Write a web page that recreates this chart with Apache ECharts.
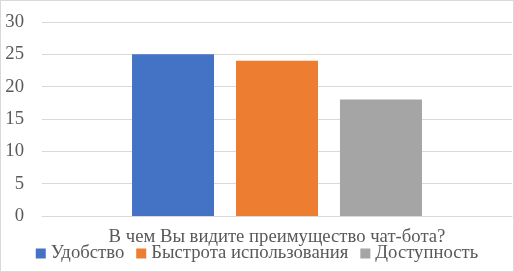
<!DOCTYPE html>
<html><head><meta charset="utf-8">
<script src="https://cdn.jsdelivr.net/npm/echarts@6/dist/echarts.min.js"></script>
<style>html,body{margin:0;padding:0;background:#fff}#c{width:512px;height:270px;border:1px solid #d9d9d9}</style>
</head><body><div id="c"></div>
<script>
const categories = ["В чем Вы видите преимущество чат-бота?"];
const seriesNames = ["Удобство", "Быстрота использования", "Доступность"];
const seriesValues = [[25], [24], [18]];
const colors = ["#4472C4", "#ED7D31", "#A5A5A5"];
const yTicks = {min: 0, max: 30, interval: 5};

const serifFont = "Liberation Serif, serif";
const chart = echarts.init(document.getElementById('c'));
chart.setOption({
  animation: false,
  grid: {left: 41, right: 1, top: 21, bottom: 55, containLabel: false},
  legend: {
    data: seriesNames, top: 243, left: 'center', padding: 0, itemWidth: 10, itemHeight: 10, itemGap: 12,
    icon: 'rect', textStyle: {fontFamily: serifFont, fontSize: 18.7, color: '#595959'}
  },
  xAxis: {
    type: 'category', data: categories,
    axisLine: {lineStyle: {color: '#d9d9d9'}}, axisTick: {show: false},
    axisLabel: {fontFamily: serifFont, fontSize: 18.7, color: '#595959', margin: 12}
  },
  yAxis: {
    type: 'value', min: yTicks.min, max: yTicks.max, interval: yTicks.interval,
    axisLine: {show: false}, axisTick: {show: false},
    splitLine: {lineStyle: {color: '#d9d9d9'}},
    axisLabel: {fontFamily: serifFont, fontSize: 18.7, color: '#595959', margin: 18}
  },
  series: seriesNames.map((n, i) => ({
    name: n, type: 'bar', data: seriesValues[i], itemStyle: {color: colors[i]},
    barWidth: 82, barGap: '26.8%'
  }))
});
</script></body></html>
